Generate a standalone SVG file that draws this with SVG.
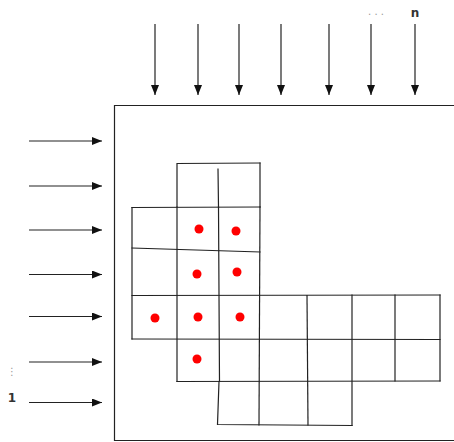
<svg xmlns="http://www.w3.org/2000/svg" width="454" height="442" viewBox="0 0 454 442">
<style>
.ar{stroke:#222;stroke-width:1.2;fill:none}
.g{stroke:#222;stroke-width:1.2;fill:none;stroke-linecap:square}
.dot{fill:#ff0000}
.lbl{font-family:"DejaVu Sans",sans-serif;font-size:12px;fill:#333}
.dim{font-family:"DejaVu Sans",sans-serif;font-size:10px;fill:#999}
</style>
<defs>
<marker id="ah" markerWidth="10" markerHeight="8" refX="10" refY="4" orient="auto" markerUnits="userSpaceOnUse">
<path d="M0,0 L10,4 L0,8 Z" fill="#111"/>
</marker>
</defs>
<rect width="454" height="442" fill="#fff"/>
<g id="frame">
<polyline class="g" points="455,105.5 114.5,105.5 114.5,440.5 455,440.5"/>
</g>
<g id="connectors">
<line class="ar" x1="155" y1="24" x2="155" y2="95" marker-end="url(#ah)"/>
<line class="ar" x1="198" y1="24" x2="198" y2="95" marker-end="url(#ah)"/>
<line class="ar" x1="239" y1="24" x2="239" y2="95" marker-end="url(#ah)"/>
<line class="ar" x1="281" y1="24" x2="281" y2="95" marker-end="url(#ah)"/>
<line class="ar" x1="329" y1="24" x2="329" y2="95" marker-end="url(#ah)"/>
<line class="ar" x1="371" y1="24" x2="371" y2="95" marker-end="url(#ah)"/>
<line class="ar" x1="415" y1="24" x2="415" y2="95" marker-end="url(#ah)"/>
<line class="ar" x1="29" y1="141" x2="102" y2="141" marker-end="url(#ah)"/>
<line class="ar" x1="29" y1="186" x2="102" y2="186" marker-end="url(#ah)"/>
<line class="ar" x1="29" y1="230" x2="102" y2="230" marker-end="url(#ah)"/>
<line class="ar" x1="29" y1="274.5" x2="102" y2="274.5" marker-end="url(#ah)"/>
<line class="ar" x1="29" y1="316.5" x2="102" y2="316.5" marker-end="url(#ah)"/>
<line class="ar" x1="29" y1="362" x2="102" y2="362" marker-end="url(#ah)"/>
<line class="ar" x1="29" y1="402.5" x2="102" y2="402.5" marker-end="url(#ah)"/>
</g>
<g id="labels">
<text class="dim" x="376" y="15" text-anchor="middle">. . .</text>
<text class="lbl" x="415" y="17" text-anchor="middle" font-weight="bold">n</text>
<text class="dim" x="12" y="375" text-anchor="middle" font-size="16">⋮</text>
<text class="lbl" x="12" y="402" text-anchor="middle" font-weight="bold">1</text>
</g>
<g id="grid">
<polyline class="g" points="177,207 177,163.5 260,163"/>
<line class="g" x1="218" y1="169" x2="218.5" y2="207"/>
<line class="g" x1="260" y1="163" x2="260" y2="207"/>
<line class="g" x1="132" y1="207.5" x2="260" y2="207"/>
<line class="g" x1="132" y1="248" x2="260" y2="252"/>
<line class="g" x1="132" y1="295.5" x2="440" y2="295"/>
<line class="g" x1="132" y1="339" x2="440" y2="339.5"/>
<line class="g" x1="177" y1="381.5" x2="440" y2="381"/>
<polyline class="g" points="219,381.5 217.5,424.5 352,425.5"/>
<line class="g" x1="132" y1="207.5" x2="132" y2="339"/>
<line class="g" x1="177" y1="207" x2="177" y2="381.5"/>
<line class="g" x1="218.5" y1="207" x2="219.5" y2="381.5"/>
<line class="g" x1="260" y1="207" x2="259" y2="425"/>
<line class="g" x1="307" y1="295.5" x2="308" y2="425"/>
<line class="g" x1="352" y1="295" x2="352" y2="425.5"/>
<line class="g" x1="395" y1="295" x2="395" y2="381"/>
<line class="g" x1="440" y1="295" x2="440" y2="381"/>
</g>
<g id="dots">
<circle class="dot" cx="199" cy="229" r="4.5"/>
<circle class="dot" cx="236" cy="231" r="4.5"/>
<circle class="dot" cx="197" cy="274" r="4.5"/>
<circle class="dot" cx="237" cy="272" r="4.5"/>
<circle class="dot" cx="155" cy="318" r="4.5"/>
<circle class="dot" cx="198" cy="317" r="4.5"/>
<circle class="dot" cx="240" cy="317" r="4.5"/>
<circle class="dot" cx="197" cy="359" r="4.5"/>
</g>
</svg>
